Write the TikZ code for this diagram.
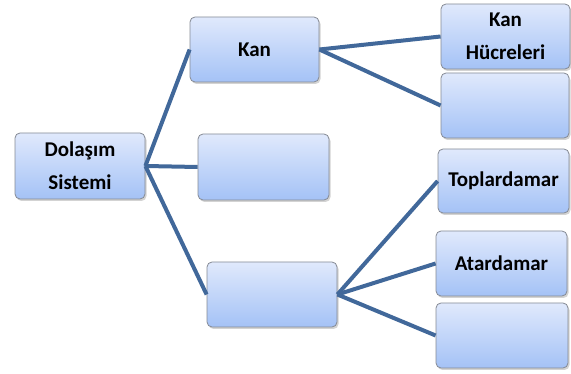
\documentclass[tikz,border=0pt]{standalone}
\usepackage{fontspec}
\setmainfont{Carlito}
\usetikzlibrary{shadows}
\definecolor{linkblue}{HTML}{41689A}
\definecolor{boxtop}{HTML}{E0E9FC}
\definecolor{boxbot}{HTML}{A4C2F6}
\definecolor{boxedge}{HTML}{858A94}
\tikzset{
  boxnode/.style={draw=boxedge, line width=0.8pt, rounded corners=5pt,
    top color=boxtop, bottom color=boxbot,
    drop shadow={shadow xshift=1.5pt, shadow yshift=-2pt, opacity=0.35},
    align=center, inner sep=0pt,
    font=\fontsize{21}{33}\selectfont\bfseries},
  link/.style={draw=linkblue, line width=4pt}
}
\begin{document}
\begin{tikzpicture}[x=1pt,y=-1pt]
\useasboundingbox (0,0) rectangle (571,374);
\node[boxnode, minimum width=130pt, minimum height=66pt] (dol) at (80,166) {Dolaşım\\Sistemi};
\node[boxnode, minimum width=129pt, minimum height=65pt] (kan) at (254.5,49.5) {Kan};
\node[boxnode, minimum width=131pt, minimum height=66pt] (mid) at (263.5,167) {};
\node[boxnode, minimum width=130pt, minimum height=65pt] (bot) at (272,294.5) {};
\node[boxnode, minimum width=129pt, minimum height=65pt] (kh) at (505.5,36.5) {Kan\\Hücreleri};
\node[boxnode, minimum width=128pt, minimum height=65pt] (e1) at (505,105.5) {};
\node[boxnode, minimum width=131pt, minimum height=64pt] (top) at (503.5,181) {Toplardamar};
\node[boxnode, minimum width=131pt, minimum height=65pt] (ata) at (501.5,263.5) {Atardamar};
\node[boxnode, minimum width=132pt, minimum height=65pt] (e2) at (502,335.5) {};
\draw[link] (dol.east) -- (kan.west);
\draw[link] (dol.east) -- (mid.west);
\draw[link] (dol.east) -- (bot.west);
\draw[link] (kan.east) -- (kh.west);
\draw[link] (kan.east) -- (e1.west);
\draw[link] (bot.east) -- (top.west);
\draw[link] (bot.east) -- (ata.west);
\draw[link] (bot.east) -- (e2.west);
\end{tikzpicture}
\end{document}
